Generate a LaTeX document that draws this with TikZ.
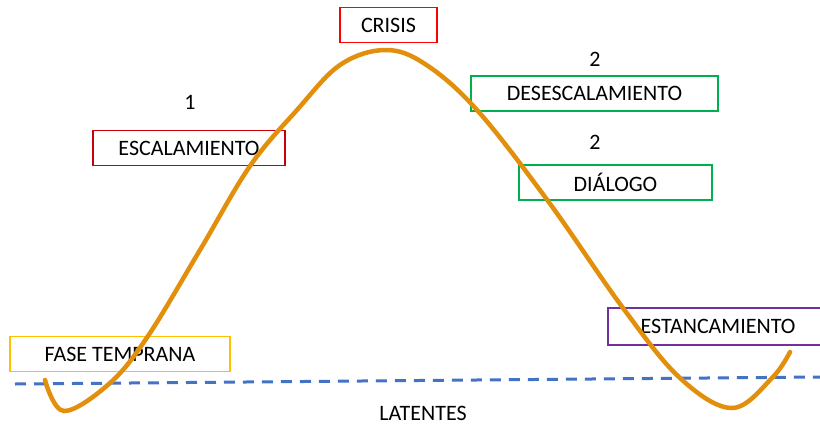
\documentclass[tikz,border=0pt]{standalone}
\usepackage{fontspec}
\setmainfont{Carlito}
\begin{document}
\begin{tikzpicture}[x=1pt,y=-1pt,
  lab/.style={font=\fontsize{22}{26}\selectfont, text=black, inner sep=0pt},
  phase/.style={draw, line width=1.5pt, minimum height=35pt, font=\fontsize{22}{26}\selectfont, text=black, inner sep=0pt}]
\definecolor{curveor}{RGB}{226,143,12}
\definecolor{dashblue}{RGB}{68,114,196}
\definecolor{redA}{RGB}{255,0,0}
\definecolor{redB}{RGB}{200,0,10}
\definecolor{greenA}{RGB}{0,176,80}
\definecolor{yellowA}{RGB}{255,192,0}
\definecolor{purpleA}{RGB}{112,48,160}
\useasboundingbox (0,0) rectangle (820,429);
\fill[white] (0,0) rectangle (820,429);
% boxes
\node[phase, draw=redA, minimum width=97pt] (crisis) at (388.5,25) {CRISIS};
\node[phase, draw=greenA, minimum width=247pt] (desesc) at (594.5,93.5) {DESESCALAMIENTO};
\node[phase, draw=greenA, minimum width=193pt] (dialogo) at (615.5,182.5) {DIÁLOGO};
\node[phase, draw=redB, minimum width=192pt] (escal) at (189,148) {ESCALAMIENTO};
\node[phase, draw=yellowA, minimum width=220pt] (fase) at (120,354) {FASE TEMPRANA};
\node[phase, draw=purpleA, minimum width=220pt, minimum height=37pt] (estanc) at (718,326.5) {ESTANCAMIENTO};
% labels
\node[lab] (n2a) at (595,59) {2};
\node[lab] (n2b) at (595,142) {2};
\node[lab] (n1) at (190,102) {1};
\node[lab] (lat) at (423,413) {LATENTES};
% dashed baseline
\coordinate (dl) at (15,384);
\coordinate (dr) at (822,377);
\draw[dashblue, line width=3pt, dash pattern=on 11pt off 8pt] (dl) -- (dr);
% curve
\draw[curveor, line width=4.5pt, line cap=round] plot[smooth, tension=0.6] coordinates {
(45,380) (64,411) (110,383) (148,336) (200,250) (250,166) (297,110) (340,65) (385,50) (425,64) (477,110) (548,201) (623,308) (680,378) (732,408) (772,378) (790,352)};
\end{tikzpicture}
\end{document}
